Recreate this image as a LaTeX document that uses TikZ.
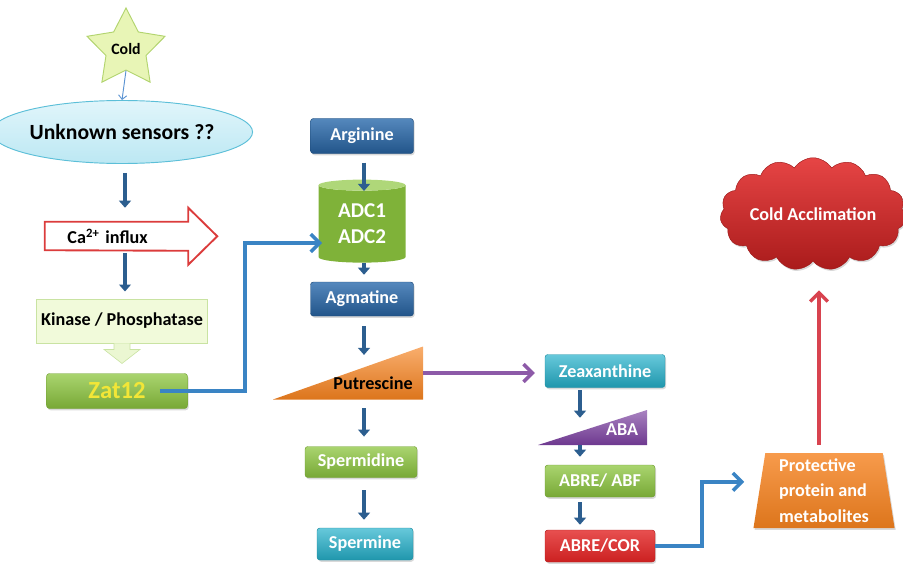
\documentclass[tikz,border=0pt]{standalone}
\usepackage{fontspec}
\setmainfont{Carlito}
\usetikzlibrary{shapes.geometric,shapes.symbols,arrows.meta,shadows,calc}

\definecolor{starfill}{HTML}{E8F5B6}
\definecolor{stardraw}{HTML}{B2D46E}
\definecolor{sensfill}{HTML}{CDEFF8}
\definecolor{sensdraw}{HTML}{5CBFD8}
\definecolor{kinfill}{HTML}{F1FADA}
\definecolor{kindraw}{HTML}{C9E3A2}
\definecolor{cared}{HTML}{DB3C3C}
\definecolor{flowblue}{HTML}{2C5E8F}
\definecolor{linkblue}{HTML}{3A84C4}
\definecolor{thinblue}{HTML}{5B93D2}
\definecolor{boxblue}{HTML}{2A6AAC}
\definecolor{boxgreen}{HTML}{8DC63F}
\definecolor{boxteal}{HTML}{25B1CB}
\definecolor{boxred}{HTML}{E22424}
\definecolor{triorange}{HTML}{F5821F}
\definecolor{tripurple}{HTML}{7A3F9F}
\definecolor{arrpurple}{HTML}{8D5AA8}
\definecolor{arrred}{HTML}{D8434F}
\definecolor{zatyellow}{HTML}{F2E637}

\tikzset{
  boxfont/.style={font=\bfseries\fontsize{15.5}{18}\selectfont},
  box/.style={rectangle, rounded corners=2.5pt, inner sep=0pt, text=white, boxfont,
    drop shadow={opacity=0.3, shadow xshift=1pt, shadow yshift=-1.5pt}},
  bluebox/.style={box, top color=boxblue!80!white, bottom color=boxblue!80!black, draw=boxblue!70!black},
  greenbox/.style={box, top color=boxgreen!75!white, bottom color=boxgreen!85!black, draw=boxgreen!80!black},
  tealbox/.style={box, top color=boxteal!70!white, bottom color=boxteal!85!black, draw=boxteal!80!black},
  redbox/.style={box, top color=boxred!80!white, bottom color=boxred!90!black, draw=boxred!80!black},
  tri/.style={inner sep=0pt, path picture={
    \shade[top color=#1!65!white, bottom color=#1!90!black]
      (path picture bounding box.south west) -- (path picture bounding box.north east)
      -- (path picture bounding box.south east) -- cycle;}},
  flow/.style={draw=flowblue, line width=4pt, -{Triangle[width=10pt,length=6pt]}},
  barb/.style={-{Straight Barb[width=15pt,length=7.5pt]}},
  link/.style={draw=linkblue, line width=3pt, barb},
}

\begin{document}
\begin{tikzpicture}[x=0.03cm, y=-0.03cm]
\useasboundingbox (0,0) rectangle (903,564);

% arrow columns
\coordinate (c1) at (125,0);
\coordinate (c2) at (364,0);
\coordinate (c3) at (580,0);

% Left column: perception
\node[star, star points=5, star point ratio=1.95, minimum size=2.46cm, inner sep=0pt,
  fill=starfill, draw=stardraw, line width=0.8pt, font=\bfseries\fontsize{13.5}{15}\selectfont]
  (cold) at (126,49) {Cold};
\node[ellipse, minimum width=6.81cm, minimum height=1.89cm, inner sep=0pt,
  top color=sensfill!60!white, bottom color=sensfill!85!sensdraw, draw=sensdraw, line width=0.8pt,
  font=\bfseries\fontsize{18.5}{21}\selectfont] (sensors) at (122,132) {Unknown sensors ??};
\node[minimum width=4.29cm, minimum height=0.84cm, inner sep=0pt, text width=2.94cm, align=left,
  boxfont] (ca) at (116.5,236) {Ca\textsuperscript{2+} influx};
\draw[cared, line width=1.6pt, line join=miter]
  (ca.north west) -- (ca.north east) -- ++(0,0.42cm) -- ++(0.87cm,-0.855cm)
  -- ++(-0.87cm,-0.855cm) -- ++(0,0.42cm) -- (ca.south west) -- cycle;
\node[rectangle, minimum width=5.13cm, minimum height=1.32cm, inner sep=0pt,
  fill=kinfill, draw=kindraw, line width=0.8pt, boxfont] (kinase) at (122,321) {Kinase / Phosphatase};
\fill[kinfill!85!kindraw] ([xshift=-0.24cm]kinase.south) -- ++(0,-0.18cm) -- ++(-0.3cm,0)
  -- ([yshift=-0.6cm]kinase.south) -- ++(0.54cm,0.42cm) -- ++(-0.3cm,0) -- ++(0,0.18cm) -- cycle;
\draw[kindraw, line width=0.5pt] ([xshift=-0.24cm]kinase.south) -- ++(0,-0.18cm) -- ++(-0.3cm,0)
  -- ([yshift=-0.6cm]kinase.south) -- ++(0.54cm,0.42cm) -- ++(-0.3cm,0) -- ++(0,0.18cm);
\node[greenbox, minimum width=4.23cm, minimum height=1.05cm, text=zatyellow,
  font=\bfseries\fontsize{21}{24}\selectfont] (zat) at (117,391) {Zat12};

\draw[thinblue, line width=0.8pt, -{Straight Barb[width=7pt,length=3.5pt]}] (cold.inner point 3) -- (sensors.north);
\draw[flow, shorten <=0.27cm, shorten >=0.42cm] (sensors.south -| c1) -- (ca.north -| c1);
\draw[flow, shorten <=0.09cm, shorten >=0.21cm] (ca.south -| c1) -- (kinase.north -| c1);

% Middle column: polyamines
\node[bluebox, minimum width=3.09cm, minimum height=1.05cm] (arg) at (362,136) {Arginine};
\node[cylinder, shape border rotate=90, aspect=0.23, minimum width=2.61cm, minimum height=2.49cm,
  inner sep=0pt, cylinder uses custom fill, cylinder body fill=boxgreen!90!black,
  cylinder end fill=boxgreen!70!white, text=white, align=center,
  font=\bfseries\fontsize{18}{22}\selectfont] (adc) at (362,224) {ADC1\\ADC2};
\node[bluebox, minimum width=3.09cm, minimum height=1.02cm] (agm) at (362,299) {Agmatine};
\node[tri=triorange, minimum width=4.5cm, minimum height=1.59cm] (putr) at (348,373) {};
\node[boxfont, text=black, inner sep=0pt] (putrtext) at (373,383) {Putrescine};
\node[greenbox, minimum width=3.36cm, minimum height=0.93cm] (spd) at (361,462) {Spermidine};
\node[tealbox, minimum width=2.88cm, minimum height=0.96cm] (spm) at (365,544) {Spermine};

\draw[flow, shorten <=0.27cm] (arg.south -| c2) -- ([yshift=0.99cm]adc.center -| c2);
\draw[flow, shorten >=0.21cm] ([yshift=-1.17cm]adc.center -| c2) -- (agm.north -| c2);
\draw[flow, shorten <=0.3cm, shorten >=-0.26cm] (agm.south -| c2) -- (putr.north -| c2);
\draw[flow, shorten <=0.26cm, shorten >=0.29cm] (putr.south -| c2) -- (spd.north -| c2);
\draw[flow, shorten <=0.37cm, shorten >=0.24cm] (spd.south -| c2) -- (spm.north -| c2);
\draw[link] ([xshift=-0.84cm]zat.east) -- ++(2.55cm,0) |- ([shift={(-1.2cm,-0.57cm)}]adc.center);

% Right column: ABA branch
\node[tealbox, minimum width=3.6cm, minimum height=0.99cm] (zea) at (605,371) {Zeaxanthine};
\node[tri=tripurple, minimum width=3.27cm, minimum height=1.05cm] (aba) at (592.5,427.5) {};
\node[boxfont, text=white, inner sep=0pt] (abatext) at (622,430) {ABA};
\node[greenbox, minimum width=3.3cm, minimum height=0.96cm] (abf) at (600,481) {ABRE/ ABF};
\node[redbox, minimum width=3.3cm, minimum height=0.96cm] (cor) at (600,546) {ABRE/COR};

\draw[arrpurple, line width=3pt, barb, shorten >=0.3cm]
  (putr.east) -- (putr.east -| zea.west);
\draw[flow, shorten <=0.08cm, shorten >=-0.24cm] (zea.south -| c3) -- (aba.north -| c3);
\draw[flow, shorten >=0.24cm] (aba.south -| c3) -- (abf.north -| c3);
\draw[flow, shorten <=0.15cm, shorten >=0.15cm] (abf.south -| c3) -- (cor.north -| c3);

% Output
\node[trapezium, trapezium left angle=82, trapezium right angle=82, trapezium stretches=true,
  minimum width=4.26cm, minimum height=2.25cm, inner sep=0pt,
  top color=triorange!80!white, bottom color=triorange!90!black, text=white, align=left,
  boxfont, font=\bfseries\fontsize{15.5}{22}\selectfont,
  drop shadow={opacity=0.3, shadow xshift=1pt, shadow yshift=-1.5pt}]
  (prot) at (824,490.5) {Protective\\protein and\\metabolites};
\node[cloud, cloud puffs=15, cloud puff arc=115, aspect=1.9, minimum width=5.31cm, minimum height=2.94cm,
  inner sep=0pt, top color=boxred!85!white, bottom color=boxred!75!black, draw=boxred!70!black,
  text=white, boxfont, drop shadow={opacity=0.3, shadow xshift=1pt, shadow yshift=-1.5pt}]
  (accl) at (813,214) {Cold Acclimation};

\draw[link] (cor.east) -- ++(1.41cm,0) |- ([shift={(-0.45cm,0.26cm)}]prot.west);
\draw[arrred, line width=2.8pt, barb, shorten <=0.24cm, shorten >=0.87cm]
  ([xshift=-0.15cm]prot.north) -- ([xshift=-0.15cm]prot.north |- accl.south);

\end{tikzpicture}
\end{document}
